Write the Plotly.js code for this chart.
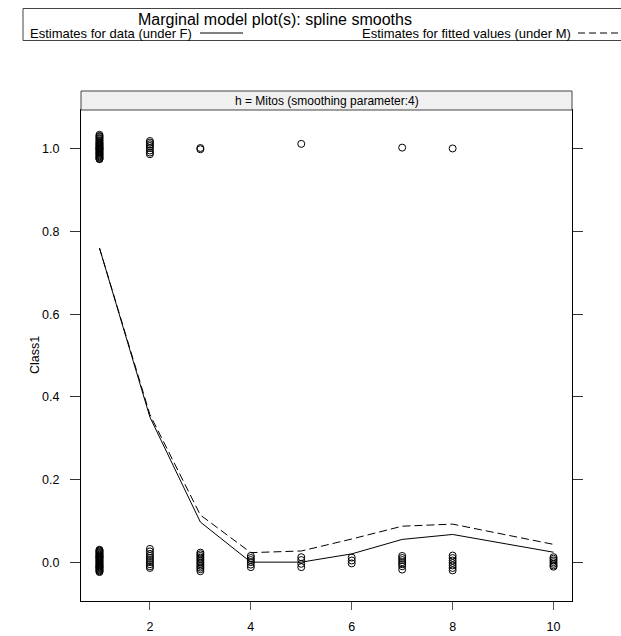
<!DOCTYPE html>
<html>
<head>
<meta charset="utf-8">
<script src="https://cdn.plot.ly/plotly-3.0.1.min.js"></script>
<style>html,body{margin:0;padding:0;background:#fff;}</style>
</head>
<body>
<div id="chart" style="width:621px;height:636px;"></div>
<script>
// Smooth curves (x = Mitos level)
const smoothX = [1, 2, 3, 4, 5, 6, 7, 8, 10];
const dataSmooth = [0.760, 0.351, 0.097, 0.000, 0.000, 0.020, 0.055, 0.067, 0.024];   // under F (solid)
const fittedSmooth = [0.760, 0.357, 0.114, 0.023, 0.027, 0.056, 0.087, 0.092, 0.043]; // under M (dashed)

// Observed Class1 responses (jittered as plotted)
const obsX1 = [1,1,1,1,1,1,1,1,1,1,1,1,1,1,1,1,1,1,1,1,1,1,1,1,1,1,1,1,1,1,
               2,2,2,2,2,2,2,2,
               3,3,
               5,
               7,
               8];
const obsY1 = [1.034,1.031,1.029,1.026,1.024,1.021,1.019,1.016,1.014,1.012,1.010,1.008,1.006,1.004,1.002,1.000,0.998,0.996,0.994,0.992,0.990,0.988,0.986,0.984,0.982,0.980,0.978,0.976,0.975,1.001,
               1.019,1.015,1.011,1.007,1.002,0.996,0.991,0.987,
               1.002,0.999,
               1.012,
               1.003,
               1.001];
const obsX0 = [1,1,1,1,1,1,1,1,1,1,1,1,1,1,1,1,1,1,1,1,1,1,1,1,1,1,1,1,1,1,
               2,2,2,2,2,2,2,2,2,2,
               3,3,3,3,3,3,3,3,3,3,3,3,
               4,4,4,4,4,4,
               5,5,5,5,
               6,6,6,
               7,7,7,7,7,7,7,
               8,8,8,8,8,8,8,
               10,10,10,10,10,10,10];
const obsY0 = [0.030,0.028,0.026,0.024,0.022,0.020,0.018,0.016,0.014,0.012,0.010,0.008,0.006,0.004,0.002,0.000,-0.002,-0.004,-0.006,-0.008,-0.010,-0.012,-0.014,-0.016,-0.018,-0.020,-0.022,-0.024,0.013,-0.011,
               0.032,0.026,0.020,0.015,0.010,0.005,0.000,-0.005,-0.010,-0.014,
               0.023,0.019,0.015,0.011,0.007,0.003,-0.001,-0.005,-0.009,-0.013,-0.017,-0.022,
               0.015,0.010,0.005,0.000,-0.006,-0.012,
               0.012,0.005,-0.004,-0.012,
               0.011,0.004,-0.003,
               0.015,0.010,0.005,0.000,-0.005,-0.010,-0.018,
               0.016,0.010,0.004,-0.002,-0.008,-0.014,-0.020,
               0.012,0.008,0.004,0.000,-0.004,-0.008,-0.011];

const xTicks = [2, 4, 6, 8, 10];
const yTicks = [0.0, 0.2, 0.4, 0.6, 0.8, 1.0];

const FONT = 'Liberation Sans, Arial, Helvetica, sans-serif';
const pointStyle = {symbol: 'circle-open', size: 7, color: '#000', line: {width: 1, color: '#000'}};

const traces = [
  {x: obsX1, y: obsY1, type: 'scatter', mode: 'markers', marker: pointStyle, hoverinfo: 'skip'},
  {x: obsX0, y: obsY0, type: 'scatter', mode: 'markers', marker: pointStyle, hoverinfo: 'skip'},
  {x: smoothX, y: dataSmooth, type: 'scatter', mode: 'lines', line: {color: '#000', width: 1}},
  {x: smoothX, y: fittedSmooth, type: 'scatter', mode: 'lines', line: {color: '#000', width: 1, dash: '8px,4px'}}
];

// pixel helpers for decoration (plot area: x 81..572, y 110..601)
const L = 81, R = 572, T = 110, B = 601, W = R - L, H = B - T;
const px = v => (v - L) / W;
const py = v => (B - v) / H;

const layout = {
  width: 621, height: 636,
  margin: {l: L, r: 621 - R, t: T, b: 636 - B, pad: 0},
  paper_bgcolor: '#fff', plot_bgcolor: '#fff',
  showlegend: false,
  font: {family: FONT, size: 12, color: '#000'},
  xaxis: {
    range: [0.634, 10.366], tickvals: xTicks, ticktext: xTicks.map(String),
    showgrid: false, zeroline: false, showline: true, linecolor: '#000', linewidth: 1, mirror: true,
    ticks: 'outside', ticklen: 8, tickcolor: '#555', tickwidth: 1, ticklabelstandoff: 6,
    tickfont: {family: FONT, size: 12.5, color: '#000'}
  },
  yaxis: {
    range: [-0.094, 1.094], tickvals: yTicks, ticktext: yTicks.map(v => v.toFixed(1)),
    showgrid: false, zeroline: false, showline: true, linecolor: '#000', linewidth: 1, mirror: 'ticks',
    ticks: 'outside', ticklen: 10, tickcolor: '#333', tickwidth: 1, ticklabelstandoff: 8,
    tickfont: {family: FONT, size: 12.5, color: '#000'}
  },
  shapes: [
    // strip
    {type: 'rect', xref: 'paper', yref: 'paper', x0: 0, x1: 1, y0: 1, y1: py(91),
     fillcolor: '#f0f0f0', line: {color: '#444', width: 1}},
    // legend box
    {type: 'rect', xref: 'paper', yref: 'paper', x0: px(23), x1: px(640), y0: py(40.5), y1: py(8.5),
     fillcolor: 'rgba(0,0,0,0)', line: {color: '#444', width: 1}},
    // legend line samples
    {type: 'line', xref: 'paper', yref: 'paper', x0: px(200), x1: px(243), y0: py(33), y1: py(33),
     line: {color: '#000', width: 1}},
    {type: 'line', xref: 'paper', yref: 'paper', x0: px(578), x1: px(630), y0: py(33), y1: py(33),
     line: {color: '#000', width: 1, dash: '7px,4px'}}
  ],
  annotations: [
    {text: 'h = Mitos (smoothing parameter:4)', xref: 'paper', yref: 'paper', x: 0.5, y: py(100.5),
     xanchor: 'center', yanchor: 'middle', showarrow: false, font: {family: FONT, size: 12, color: '#000'}},
    {text: 'Marginal model plot(s): spline smooths', xref: 'paper', yref: 'paper', x: px(275), y: py(20),
     xanchor: 'center', yanchor: 'middle', showarrow: false, font: {family: FONT, size: 16, color: '#000'}},
    {text: 'Estimates for data (under F)', xref: 'paper', yref: 'paper', x: px(194), y: py(33),
     xanchor: 'right', yanchor: 'middle', showarrow: false, font: {family: FONT, size: 13, color: '#000'}},
    {text: 'Estimates for fitted values (under M)', xref: 'paper', yref: 'paper', x: px(573), y: py(33),
     xanchor: 'right', yanchor: 'middle', showarrow: false, font: {family: FONT, size: 13, color: '#000'}},
    {text: 'Class1', xref: 'paper', yref: 'paper', x: px(35), y: py(355), textangle: -90,
     xanchor: 'center', yanchor: 'middle', showarrow: false, font: {family: FONT, size: 12.5, color: '#000'}}
  ]
};

Plotly.newPlot('chart', traces, layout, {staticPlot: true, displayModeBar: false});
</script>
</body>
</html>
